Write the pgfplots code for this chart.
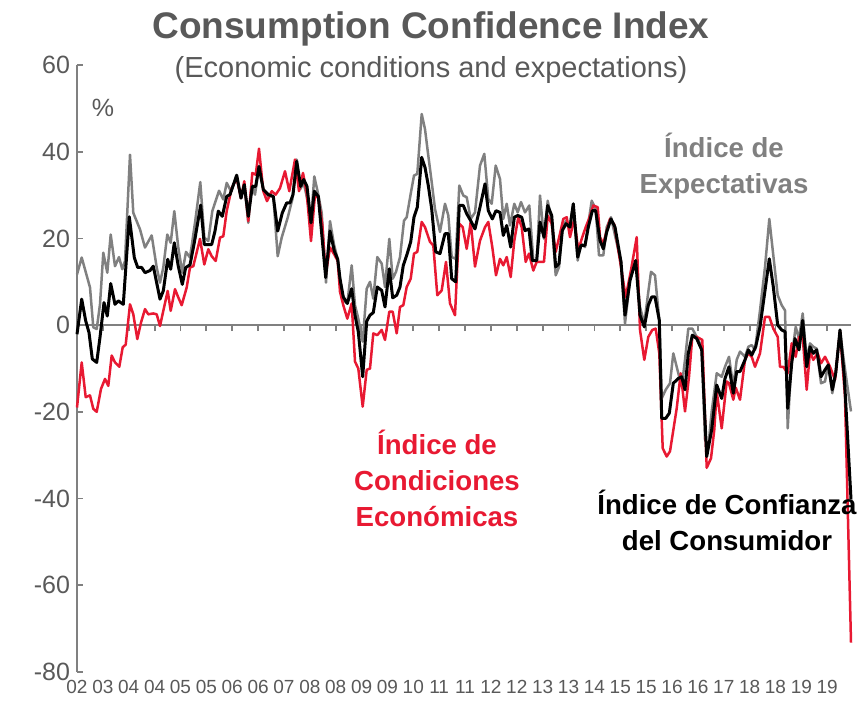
\documentclass[border=0pt]{standalone}
\usepackage{fontspec}
\setmainfont{Liberation Sans}
\usepackage{pgfplots}
\usepackage{pgfplotstable}
\pgfplotsset{compat=1.18}

\definecolor{cred}{RGB}{232,25,50}
\definecolor{cgray}{RGB}{128,128,128}
\definecolor{ctext}{RGB}{89,89,89}
\definecolor{caxis}{RGB}{128,128,128}

% x: position along the time axis (0 = first month, 774 = last month)
\pgfplotstableread{
x y
0 11.7
4.7 15.6
13 8.7
16.3 -0.5
19.7 -0.9
23 4.8
26.3 16.7
30.3 12.1
33.7 20.9
38 13.6
42 15.7
45.3 12.9
48 14.8
53 39.3
56.3 25.9
63 22.1
68 17.9
74.7 20.7
79.7 13.3
83 9.8
86.3 13.3
90.3 20.9
93.7 19
97.3 26.3
101.3 17.9
105.3 12.1
109 16.9
113 15.6
118 23.6
123.3 33
127.3 20.2
131.3 19.4
135.3 26.3
142 31
146.3 29
149.7 32.8
154 30.9
159.7 34.3
164 29.3
167.3 32.4
171.3 23.6
174.7 32.4
178 30.1
182 36.6
186.3 31.3
191.3 29.7
196.3 29.7
200.7 15.9
204.7 20.2
210.7 24.8
215.3 29
219.7 38.2
223 31.3
226.7 32.8
229.7 29.7
234 24
237.3 34.3
241.3 30.1
244.7 25.9
249 9.8
253 24
257 18.6
260.7 15.2
263 10.7
266.3 5.7
270.3 5
274.7 13.8
278 4.6
281.3 1.5
285.7 -3.8
289.7 8.4
293 10
296.3 6.1
300.3 15.7
304.7 14.2
308 8.8
312.3 19.9
315.7 10.7
319 12.3
323 15.7
327 24.1
329.7 24.9
333.7 30.3
337 34.5
340.3 34.9
344.7 48.7
348 45.2
351.3 39.1
354.7 33
358 26.8
363 21.5
368 28
371.3 25.3
374.7 15.7
378.7 15.3
382.3 32.2
386.3 29.9
389.7 29.5
393.7 24.5
398 26
403 36.8
407.3 39.5
411.3 29.1
414.7 28
418.7 36.8
423 33.7
426.3 24.5
429.7 28
433 23
437.3 28
440.7 26
444 28.4
448 26
452.3 27.6
456.3 14.9
459.7 14.9
463 29.9
467 19.9
470.7 28.7
474.7 24.1
478.7 11.5
482 13.4
485.3 22.2
489 24.1
493 23
496.3 28
500.7 14.9
504 18.8
508 18
511.3 23.4
514.7 28.7
518.7 26.8
522 16.1
526.3 16.1
529.7 22.6
534 24.9
538 20.7
544 14.6
548 0.4
553 10.3
558.7 14.9
563 4.2
567.3 0.4
571.3 7.7
574 12.3
578 11.5
582.3 1.1
584.7 -16.9
588.7 -14.9
593 -13.4
596.3 -6.5
599.7 -9.6
604.7 -14.2
608 -8
611.3 -0.8
615.3 -0.8
619.7 -2.7
624.7 -5
628 -26.4
631.3 -28
634.7 -19.9
639.7 -11.1
644.7 -11.9
648 -9.6
652 -7.3
656.3 -14.2
659.7 -8
663 -6.1
668 -7.3
671.3 -5
674.7 -4.6
678 -5.7
683 3.4
688 13.4
692.3 24.5
696.3 16.1
700.7 6.9
704.7 4.6
708 3.4
710.7 -23.8
714.7 -7.3
718.7 -0.4
722 -3.1
725.7 2.7
729.7 -8
733 -4.2
736.3 -5
739.7 -5.4
744 -13.4
748 -13
751.3 -8.8
755.3 -15.7
758.7 -11.1
763 -1.1
766.3 -7.3
769.7 -13
774 -19.9
}\expect

\pgfplotstableread{
x y
0 -19
4.7 -8.6
8.7 -16.6
13 -16.2
16.3 -19.3
19.7 -20
24 -14.7
28 -12.4
31.3 -14
34.7 -7
38 -8.6
42.3 -9.6
45.7 -5.1
48.7 -4.5
53 4.8
56.3 2.5
60.3 -3.2
64 0.6
68 3.7
71.3 2.5
76.3 2.7
79.7 2.5
83 -0.2
86.3 3.3
90.7 7.9
93.7 3.3
98 8.3
101.3 6.4
104.7 4.6
109.7 8.7
113 13.3
116.3 13.6
123 19.9
127.3 14
131.3 17.5
134.7 15.9
138.7 14.8
143 20.2
146.3 20.5
149.7 26.3
154.7 31.6
159.7 33.9
164 29.3
167.3 33.2
171.3 24
175.3 35.1
178.7 34.7
182 40.7
186.3 30.9
190 28.6
194.7 30.9
198.7 30.1
203 31.6
208 35.5
212.3 30.9
218 38.2
222 30.9
226 35.1
229.7 30.5
234 19.4
238 30.1
241.3 29.3
245.3 23.2
248.7 11.7
253 17.9
257.3 16.3
260.7 14.8
263 7.7
266.3 4.6
270.3 1.5
274.7 5
278 -8.4
281.3 -10
285.7 -18.8
289.7 -10.3
293 -10
296.3 -1.9
300.3 -2.3
304.7 -1.1
308 -3.4
312.3 3.1
315.7 3.1
319.7 -1.9
323 4.2
326.3 4.6
329.7 8.8
333.7 10.7
337 16.5
340.3 16.9
344.7 23.8
348 22.6
353 19.2
356.3 18.4
360.3 6.9
364.7 8
369 14.6
373 5
378 2.3
382.3 23.4
385.7 22.6
389.7 17.6
393.7 23.8
398 13.5
403 19.5
408 22.6
411.3 23.8
415.3 18
419 11.5
423 15.3
426.3 13.8
429.7 15.7
433.7 11.1
437.3 19.5
441.3 24.9
444.7 22.6
448.7 14.6
452 16.5
456.3 12.6
459.7 14.6
467 14.6
470.7 25.3
474.7 23.4
478.7 16.9
483 21.1
486.3 24.5
489.7 24.9
493 20.3
497.3 24.5
501.3 17.2
504.7 19.9
508.7 22.6
512 24.5
516.3 27.6
520.7 27.2
523 20.3
526.3 18.8
529.7 21.8
533 24.5
537.3 23.2
544 13.4
548.7 6.5
553.7 12.3
559.7 20.3
563 -1.1
567.3 -8
571.3 -2.7
575.3 -1.1
578.7 -0.8
582.3 -6.5
585.7 -28.4
589.7 -30.3
593 -29.1
599.7 -19.2
603.7 -11.1
608 -19.9
612 -11.9
615.3 -2.7
619.7 -2.7
625.3 -3.4
629.7 -32.9
634 -30.7
637.3 -24.1
639.7 -15.3
644.7 -23.8
649.7 -13
652 -13.4
656.3 -17.2
658.7 -14.4
663 -17.2
668 -8
671.3 -6.5
674.7 -7.3
678 -9.6
683 -6.5
688 1.9
692.3 1.9
696.3 -0.8
700.7 -2.7
703 -9.6
706.3 -9.6
710.7 -11.1
714.7 -4.2
718.7 -7.3
722 -2.7
725.7 -2.7
729.7 -14.9
733 -6.1
736.3 -8
740.7 -6.5
744 -8.8
748 -7.3
753 -9.6
758 -12.6
763 -1.5
768 -16.5
774 -73.2
}\condic

\pgfplotstableread{
x y
0 -2.1
4.7 6
8.7 1
12 -1.7
15.3 -7.8
19.7 -8.6
23 -2.8
27 5.2
30.3 2.1
33.7 9.6
38 4.8
41.3 5.6
46.3 4.8
52.3 25
57.3 15.6
60.7 13.3
64.7 13.3
68 12.1
73 12.6
76.3 13.6
83 6
86.3 7.9
90.7 15.2
93.7 12.9
97.3 19
101.3 13.6
105.3 9.4
108.7 13.3
113 13.9
117.3 19
123.7 27.7
127.3 18.6
134.7 18.6
138 21.7
141.3 26.3
145.3 25.1
149.7 29.7
153 30.1
159.7 34.6
164 29.3
167.3 32.4
171.3 25.1
175.3 32
178.7 32
182 36.6
186.3 31.3
191.3 30.1
196.3 29.7
200.7 21.7
205.3 25.9
209.7 28.2
213 28.2
216 30.1
219.7 37.8
223.7 32
226.7 33.6
230 32
234 23.6
237.3 30.9
241.3 29.7
248.7 11
253 21.7
257.3 17.1
260.7 15.2
263 10.7
266.3 6.5
270.3 5
274.7 8.4
278 2.3
281.3 -1.5
285.7 -11.9
289.7 0.9
293 2.3
296.3 2.9
300.3 8.8
304.7 8
308 4.2
312.3 13
315.7 6.3
319.7 6.9
323 8.8
326.3 13.8
329.7 16.1
333.7 19.2
337 24.9
340.3 27.2
344.7 38.7
348 36.4
351.3 32.2
354.7 26.8
358.7 16.9
363 16.5
368 21.1
371.3 21.1
374.7 10.7
378.7 10
382.3 27.6
386.3 27.6
389.7 25.7
393.7 24.1
398 22.2
403 27.2
408 32.6
411.3 26.4
415.3 24.5
419 26.4
423 26
426.3 20.7
429.7 23
433.7 18
437.3 24.9
440.7 25.3
444.7 24.9
448 21.8
452 22.2
455.3 14.9
459.7 14.9
463 23.8
467 20.3
470.7 27.6
474.7 25.3
478.7 13.4
482 14.2
485.3 21.8
489 23.4
493 22.6
496.3 28
500.7 15.7
504 18.4
508 18.4
511.3 22.6
515.3 26.4
518.7 26.4
523 19.5
526.3 17.6
529.7 21.5
534 24.5
538 22.6
544 14.6
548 2.3
553 10.3
558.7 14.9
563 2.3
567.3 -0.4
571.3 4.6
574.7 6.5
578 6.5
582.3 1.1
584.7 -21.5
588.7 -21.5
592.3 -20.3
596.3 -13.4
601.3 -12.3
604.7 -11.9
608 -14.9
611.3 -6.5
615.3 -2.3
619.7 -3.1
624.7 -5.7
629.7 -30.3
634.7 -24.1
639.7 -13.8
644.7 -16.9
648 -12.3
652 -9.6
656.3 -15.7
659.7 -10.7
663 -10.7
668 -8
671.3 -5.7
674.7 -6.9
678.7 -5
683 -0.4
688 8
692.3 15.3
696.3 8.8
700.7 0
704.7 -1.1
708 -1.5
710.7 -19.2
714.7 -8.8
718 -3.1
722 -5.7
725.7 1.1
729.7 -9.6
733 -5
736.3 -6.5
739.7 -5.7
744 -11.9
748 -10.3
751.3 -9.2
755.3 -14.9
758.7 -11.1
763 -1.1
767.3 -11.9
774 -40.2
}\confianza

\begin{document}
\begin{tikzpicture}
\path[use as bounding box] (-38.5pt,-15.5pt) rectangle (392pt,336pt);

% zero line with its ticks
\begin{axis}[
    at={(0,0)}, anchor=south west,
    scale only axis, width=387pt, height=303.5pt,
    xmin=0, xmax=774, ymin=-80, ymax=60,
    axis x line=middle, axis y line=none,
    axis line style={-, caxis, line width=0.9pt},
    xtick={25.87,51.74,...,751},
    xticklabels={},
    tick align=outside,
    major tick length=3pt,
    x tick style={caxis, line width=0.9pt},
]
\end{axis}

\begin{axis}[
    at={(0,0)}, anchor=south west,
    scale only axis, width=387pt, height=303.5pt,
    xmin=0, xmax=774, ymin=-80, ymax=60,
    axis lines=left,
    axis line style={-},
    x axis line style={draw=none},
    y axis line style={caxis, line width=0.9pt},
    ytick={-80,-60,...,60},
    tick align=inside,
    major tick length=3pt,
    y tick style={caxis, line width=0.9pt},
    x tick style={draw=none},
    xtick={0,25.87,...,751},
    xticklabels={02,03,04,04,05,05,06,06,07,08,08,09,09,10,11,11,12,12,13,13,14,15,15,16,16,17,18,18,19,19},
    xticklabel style={font=\fontsize{9.5}{10}\selectfont, text=ctext, anchor=north, yshift=-0.5pt},
    yticklabel style={font=\fontsize{12.5}{13}\selectfont, text=ctext, xshift=0pt},
    /pgf/number format/assume math mode=true,
    clip=false,
]
\addplot[cgray, line width=1.25pt, line join=round, mark=none] table {\expect};
\addplot[cred, line width=1.25pt, line join=round, mark=none] table {\condic};
\addplot[black, line width=1.5pt, line join=round, mark=none] table {\confianza};
\end{axis}

\node[font=\fontsize{18.5}{22}\selectfont\bfseries, text=ctext] at (177pt,321.5pt) {Consumption Confidence Index};
\node[font=\fontsize{14.5}{17}\selectfont, text=ctext] at (177pt,301pt) {(Economic conditions and expectations)};
\node[font=\fontsize{12.5}{14}\selectfont, text=ctext] at (13pt,282pt) {\%};

\node[font=\fontsize{13.8}{18}\selectfont\bfseries, text=cgray, align=center] at (323.5pt,253pt) {Índice de\\Expectativas};
\node[font=\fontsize{13.8}{18}\selectfont\bfseries, text=cred, align=center] at (180pt,97pt) {Índice de\\Condiciones\\Económicas};
\node[font=\fontsize{13.8}{18}\selectfont\bfseries, text=black, align=center] at (325pt,76pt) {Índice de Confianza\\del Consumidor};
\end{tikzpicture}
\end{document}
